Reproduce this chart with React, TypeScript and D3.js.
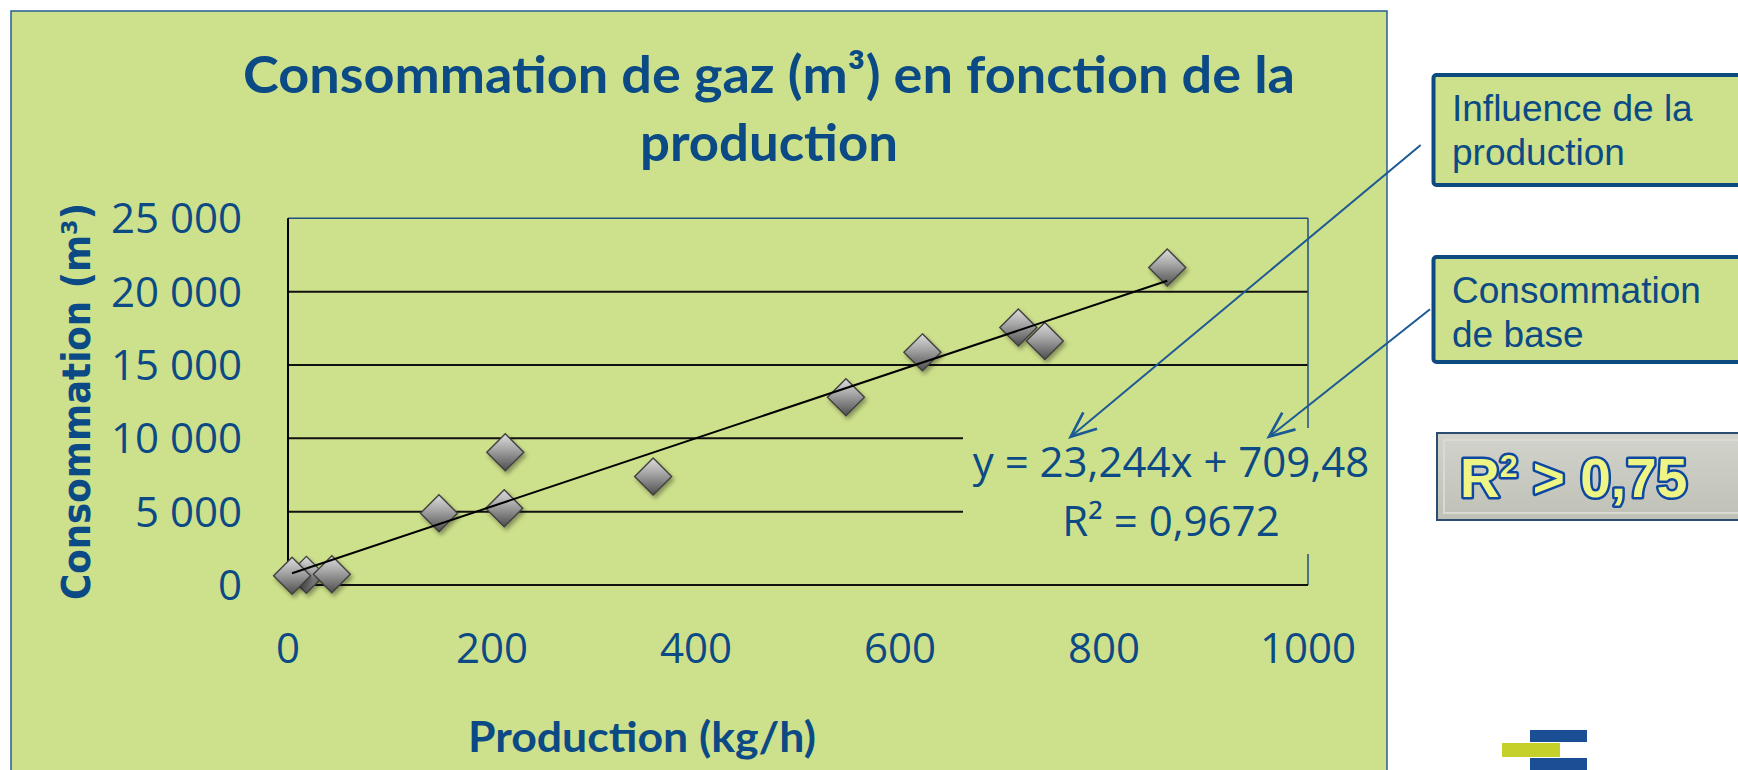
import React from "react";
import * as d3 from "d3";

// valeurs
const production = [18, 4, 43, 148, 212, 213, 358, 547, 622, 716, 742, 862];
const consommation = [690, 630, 730, 4890, 5230, 9050, 7390, 12800, 15860, 17560, 16640, 21640];
const xTicks = [0, 200, 400, 600, 800, 1000];
const yTicks = [0, 5000, 10000, 15000, 20000, 25000];
const pente = 23.244;
const origine = 709.48;
const titre = ["Consommation de gaz (m³) en fonction de la", "production"];
const equation = ["y = 23,244x + 709,48", "R² = 0,9672"];
const boite1 = ["Influence de la", "production"];
const boite2 = ["Consommation", "de base"];

const W = 1738, H = 770;
const GREEN = "#cde08b";
const BLUE = "#0b4a84";
const LINE_BLUE = "#1b5a94";

const fmtY = d3.formatLocale({ decimal: ",", thousands: "\u00a0", grouping: [3], currency: ["", ""] }).format(",d");

export default function App() {
  const x = d3.scaleLinear().domain([0, 1000]).range([288, 1308]);
  const y = d3.scaleLinear().domain([0, 25000]).range([585, 218.3]);
  const pts = production.map((p, i) => ({ p, c: consommation[i] }));
  const xmin = d3.min(production)!, xmax = d3.max(production)!;
  const trend = d3.line<number>().x(d => x(d)).y(d => y(pente * d + origine))([xmin, xmax]);
  const r = 18.5;
  const diamond = `M0,${-r} L${r},0 L0,${r} L${-r},0 Z`;

  return (
    <svg width={W} height={H} style={{ position: "absolute", left: 0, top: 0, display: "block", background: "#fff" }}>
      <defs>
        <linearGradient id="dg" x1="0" y1="0" x2="0" y2="1">
          <stop offset="0" stopColor="#dcdcdc" />
          <stop offset="0.4" stopColor="#a8a8a8" />
          <stop offset="1" stopColor="#4e4e4e" />
        </linearGradient>
        <filter id="sh" x="-50%" y="-50%" width="200%" height="200%">
          <feDropShadow dx="2" dy="3" stdDeviation="2" floodColor="#000" floodOpacity="0.35" />
        </filter>
        <marker id="arr" markerUnits="userSpaceOnUse" markerWidth="40" markerHeight="40" refX="0" refY="0"
          viewBox="-25 -15 30 30" orient="auto">
          <path d="M-19,-8 L0,0 L-19,8" fill="none" stroke={LINE_BLUE} strokeWidth="2" />
        </marker>
        <linearGradient id="rg" x1="0" y1="0" x2="0" y2="1">
          <stop offset="0" stopColor="#d2d3cb" />
          <stop offset="1" stopColor="#bfc1b7" />
        </linearGradient>
      </defs>

      {/* panneau du graphique */}
      <rect x={11} y={11} width={1376} height={800} fill={GREEN} stroke="#255d95" strokeWidth={1.5} />

      {/* titre */}
      <g fontFamily="Lato" fontWeight="bold" fill={BLUE} textAnchor="middle">
        <text x={769} y={93} fontSize={52} textLength={1052} lengthAdjust="spacingAndGlyphs">{titre[0]}</text>
        <text x={769} y={161} fontSize={52} textLength={258} lengthAdjust="spacingAndGlyphs">{titre[1]}</text>
      </g>

      {/* grille */}
      {yTicks.filter(t => t > 0 && t < 25000).map(t => (
        <line key={t} x1={x(0)} x2={x(1000)} y1={y(t)} y2={y(t)} stroke="#111" strokeWidth={2} />
      ))}
      <line x1={x(0)} x2={x(1000)} y1={y(25000)} y2={y(25000)} stroke="#1d4f80" strokeWidth={1.5} />
      <line x1={x(1000)} x2={x(1000)} y1={y(25000)} y2={y(0)} stroke="#1d4f80" strokeWidth={1.5} />
      <line x1={x(0)} x2={x(1000)} y1={y(0)} y2={y(0)} stroke="#111" strokeWidth={2} />
      <line x1={x(0)} x2={x(0)} y1={y(25000)} y2={y(0)} stroke="#000" strokeWidth={2} />

      {/* points */}
      {pts.map((d, i) => (
        <path key={i} d={diamond} transform={`translate(${x(d.p)},${y(d.c)})`} fill="url(#dg)"
          stroke="#3f3f3f" strokeWidth={1.4} filter="url(#sh)" />
      ))}
      <path d={trend ?? ""} stroke="#000" strokeWidth={2} fill="none" />

      {/* étiquettes des axes */}
      <g fontFamily="Open Sans" fontSize={42} fill={BLUE}>
        {yTicks.map(t => (
          <text key={t} x={242} y={y(t) + 15} textAnchor="end">{fmtY(t)}</text>
        ))}
        {xTicks.map(t => (
          <text key={t} x={x(t)} y={663} textAnchor="middle">{t}</text>
        ))}
      </g>
      <text x={642} y={752} fontFamily="Lato" fontWeight="bold" fontSize={42} fill={BLUE} textAnchor="middle"
        textLength={348} lengthAdjust="spacingAndGlyphs">Production (kg/h)</text>
      <text transform="translate(90,401.5) rotate(-90)" fontFamily="DejaVu Sans" fontWeight="bold" fontSize={39}
        fill={BLUE} textAnchor="middle" textLength={397} lengthAdjust="spacingAndGlyphs">Consommation (m³)</text>

      {/* étiquette de la courbe de tendance */}
      <rect x={963} y={428} width={418} height={126} fill={GREEN} />
      <g fontFamily="Open Sans" fontSize={42} fill={BLUE} textAnchor="middle">
        <text x={1171} y={477}>{equation[0]}</text>
        <text x={1171} y={536}>{equation[1]}</text>
      </g>

      {/* encadrés à droite */}
      <rect x={1433.5} y={75} width={330} height={110} rx={3} fill={GREEN} stroke="#0d4a80" strokeWidth={4} />
      <rect x={1433.5} y={257} width={330} height={105} rx={3} fill={GREEN} stroke="#0d4a80" strokeWidth={4} />
      <g fontFamily="Liberation Sans" fontSize={37} fill={BLUE}>
        <text x={1452} y={121}>{boite1[0]}</text>
        <text x={1452} y={165}>{boite1[1]}</text>
        <text x={1452} y={303}>{boite2[0]}</text>
        <text x={1452} y={347}>{boite2[1]}</text>
      </g>

      {/* flèches */}
      <line x1={1420.7} y1={145} x2={1070.7} y2={436.7} stroke={LINE_BLUE} strokeWidth={2} markerEnd="url(#arr)" />
      <line x1={1430} y1={309.3} x2={1269} y2={436.7} stroke={LINE_BLUE} strokeWidth={2} markerEnd="url(#arr)" />

      {/* R² > 0,75 */}
      <rect x={1437} y={433} width={320} height={87} fill="url(#rg)" stroke="#2b4d70" strokeWidth={2} />
      <rect x={1444} y={440} width={310} height={73} fill="none" stroke="#d9dad3" strokeWidth={2} />
      <text x={1460} y={497} fontFamily="Liberation Sans" fontWeight="bold" fontSize={55} fill="#eef585"
        stroke="#0d47a0" strokeWidth={5} paintOrder="stroke" strokeLinejoin="round">
        R<tspan fontSize={32} dy={-20}>2</tspan><tspan dy={20}> &gt; 0,75</tspan>
      </text>

      {/* logo */}
      <rect x={1530} y={730} width={57} height={12} fill="#1a4f96" />
      <rect x={1502} y={743} width={58} height={14} fill="#c5d12a" />
      <rect x={1530} y={758} width={57} height={14} fill="#1a4f96" />
    </svg>
  );
}
